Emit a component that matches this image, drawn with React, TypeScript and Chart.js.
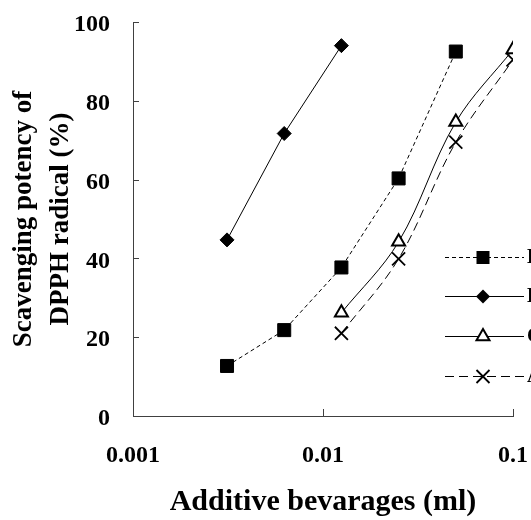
import React, { useEffect, useRef } from 'react';
import { Chart, registerables } from 'chart.js';

Chart.register(...registerables);

// ---- data ----
const xValues = [0.003125, 0.00625, 0.0125, 0.025, 0.05, 0.1];
const seriesLabels = ['Black tea', 'Barley tea', 'Coffee', 'Apple juice'];
const squareValues = [12.7, 21.8, 37.7, 60.3, 92.5, null];
const diamondValues = [44.7, 71.7, 94.0, null, null, null];
const triangleValues = [null, null, 26.2, 44.2, 74.6, 93.0];
const crossValues = [null, null, 21.0, 39.9, 69.5, 90.4];
const xTickValues = [0.001, 0.01, 0.1];
const xTickLabels = ['0.001', '0.01', '0.1'];
const yTickLabels = ['0', '20', '40', '60', '80', '100'];
const xTitle = 'Additive bevarages (ml)';
const yTitle = ['Scavenging potency of', 'DPPH radical (%)'];

const FONT = "'Liberation Serif', 'Times New Roman', serif";

const toPoints = (vals: (number | null)[]) =>
  xValues
    .map((x, i) => ({ x, y: vals[i] }))
    .filter((p) => p.y !== null) as { x: number; y: number }[];

type Style = {
  point: string;
  radius: number;
  fill: string;
  pw: number;
  dash: number[];
  tension: number;
};

const styles: Style[] = [
  { point: 'rect', radius: 9.2, fill: '#000', pw: 1, dash: [4, 3], tension: 0 },
  { point: 'rectRot', radius: 7, fill: '#000', pw: 1, dash: [], tension: 0 },
  { point: 'triangle', radius: 7.5, fill: '#fff', pw: 2, dash: [], tension: 0.35 },
  { point: 'crossRot', radius: 9.2, fill: '#fff', pw: 1.8, dash: [9, 5], tension: 0.35 },
];
const seriesValues = [squareValues, diamondValues, triangleValues, crossValues];

function drawMarker(ctx: CanvasRenderingContext2D, s: Style, x: number, y: number) {
  ctx.save();
  ctx.setLineDash([]);
  ctx.lineWidth = s.pw;
  ctx.strokeStyle = '#000';
  ctx.fillStyle = s.fill;
  const r = s.radius;
  ctx.beginPath();
  if (s.point === 'rect') {
    const h = r * Math.SQRT1_2;
    ctx.rect(x - h, y - h, 2 * h, 2 * h);
    ctx.fill();
  } else if (s.point === 'rectRot') {
    ctx.moveTo(x - r, y);
    ctx.lineTo(x, y - r);
    ctx.lineTo(x + r, y);
    ctx.lineTo(x, y + r);
    ctx.closePath();
    ctx.fill();
  } else if (s.point === 'triangle') {
    ctx.moveTo(x, y - r);
    ctx.lineTo(x + r * Math.sin((2 * Math.PI) / 3), y - r * Math.cos((2 * Math.PI) / 3));
    ctx.lineTo(x + r * Math.sin((4 * Math.PI) / 3), y - r * Math.cos((4 * Math.PI) / 3));
    ctx.closePath();
    ctx.fill();
    ctx.stroke();
  } else {
    const h = r * Math.SQRT1_2;
    ctx.moveTo(x - h, y - h);
    ctx.lineTo(x + h, y + h);
    ctx.moveTo(x + h, y - h);
    ctx.lineTo(x - h, y + h);
    ctx.stroke();
  }
  ctx.restore();
}

const decorPlugin = {
  id: 'decor',
  afterDraw(chart: any) {
    const ctx: CanvasRenderingContext2D = chart.ctx;
    const xs = chart.scales.x;
    const ys = chart.scales.y;
    const area = chart.chartArea;
    ctx.save();
    // inward tick marks
    ctx.strokeStyle = '#404040';
    ctx.lineWidth = 1;
    ctx.beginPath();
    ys.ticks.forEach((t: any) => {
      const py = Math.round(ys.getPixelForValue(t.value)) + 0.5;
      ctx.moveTo(area.left, py);
      ctx.lineTo(area.left + 6, py);
    });
    xTickValues.forEach((v) => {
      const px = Math.round(xs.getPixelForValue(v)) + 0.5;
      ctx.moveTo(px, area.bottom);
      ctx.lineTo(px, area.bottom - 7);
    });
    ctx.stroke();

    // legend (partly outside the canvas, as in the reference)
    const x0 = 445;
    const x1 = 524;
    const xm = 483;
    seriesLabels.forEach((label, i) => {
      const s = styles[i];
      const y = Math.round(256.5 + i * 39.8) + 0.5;
      ctx.save();
      ctx.strokeStyle = '#000';
      ctx.lineWidth = 1;
      ctx.setLineDash(s.dash);
      ctx.beginPath();
      ctx.moveTo(x0, y);
      ctx.lineTo(x1, y);
      ctx.stroke();
      ctx.restore();
      drawMarker(ctx, s, xm, y);
      ctx.fillStyle = '#000';
      ctx.font = `bold 20px ${FONT}`;
      ctx.textBaseline = 'middle';
      ctx.textAlign = 'left';
      ctx.fillText(label, 527, y);
    });
    ctx.restore();
  },
};

const zeroPadding = (scale: any) => {
  scale.paddingTop = 0;
  scale.paddingBottom = 0;
  scale.paddingLeft = 0;
  scale.paddingRight = 0;
};

export default function App() {
  const ref = useRef<HTMLCanvasElement | null>(null);

  useEffect(() => {
    if (!ref.current) return;
    const chart = new Chart(ref.current, {
      type: 'line',
      data: {
        datasets: seriesValues.map((vals, i) => ({
          label: seriesLabels[i],
          data: toPoints(vals),
          borderColor: '#000',
          borderWidth: 1,
          borderDash: styles[i].dash,
          tension: styles[i].tension,
          fill: false,
          pointStyle: styles[i].point as any,
          pointRadius: styles[i].radius,
          pointHoverRadius: styles[i].radius,
          pointBackgroundColor: styles[i].fill,
          pointBorderColor: '#000',
          pointBorderWidth: styles[i].pw,
        })),
      },
      plugins: [decorPlugin],
      options: {
        animation: false,
        responsive: false,
        devicePixelRatio: 1,
        layout: { padding: { top: 22, right: 18, left: 0, bottom: 0 } },
        plugins: {
          legend: { display: false },
          tooltip: { enabled: false },
        },
        scales: {
          x: {
            type: 'logarithmic',
            min: 0.001,
            max: 0.1,
            afterBuildTicks: (scale: any) => {
              scale.ticks = xTickValues.map((v) => ({ value: v }));
            },
            afterFit: (scale: any) => {
              scale.height = 104;
              zeroPadding(scale);
            },
            grid: { display: false, drawTicks: false },
            border: { display: true, color: '#404040', width: 1 },
            ticks: {
              autoSkip: false,
              maxRotation: 0,
              padding: 25,
              color: '#000',
              font: { family: FONT, size: 24, weight: 'bold' },
              callback: (value: any) => {
                const idx = xTickValues.findIndex((v) => Math.abs(v - Number(value)) < 1e-9);
                return idx >= 0 ? xTickLabels[idx] : '';
              },
            },
            title: {
              display: true,
              text: xTitle,
              color: '#000',
              padding: { top: 0, bottom: 0 },
              font: { family: FONT, size: 30, weight: 'bold' },
            },
          },
          y: {
            min: 0,
            max: 100,
            afterFit: (scale: any) => {
              scale.width = 133;
              zeroPadding(scale);
            },
            grid: { display: false, drawTicks: false },
            border: { display: true, color: '#404040', width: 1 },
            ticks: {
              stepSize: 20,
              padding: 23,
              labelOffset: 3,
              color: '#000',
              font: { family: FONT, size: 24, weight: 'bold' },
              callback: (value: any) => {
                const idx = Math.round(Number(value) / 20);
                return yTickLabels[idx] ?? '';
              },
            },
            title: {
              display: true,
              text: yTitle,
              color: '#000',
              padding: { top: 5.5, bottom: 0 },
              font: { family: FONT, size: 27, weight: 'bold', lineHeight: 1.37 },
            },
          },
        },
      },
    });
    return () => chart.destroy();
  }, []);

  return (
    <div style={{ position: 'fixed', left: 0, top: 0, width: 531, height: 520, background: '#fff' }}>
      <canvas ref={ref} width={531} height={520} style={{ display: 'block' }} />
    </div>
  );
}
